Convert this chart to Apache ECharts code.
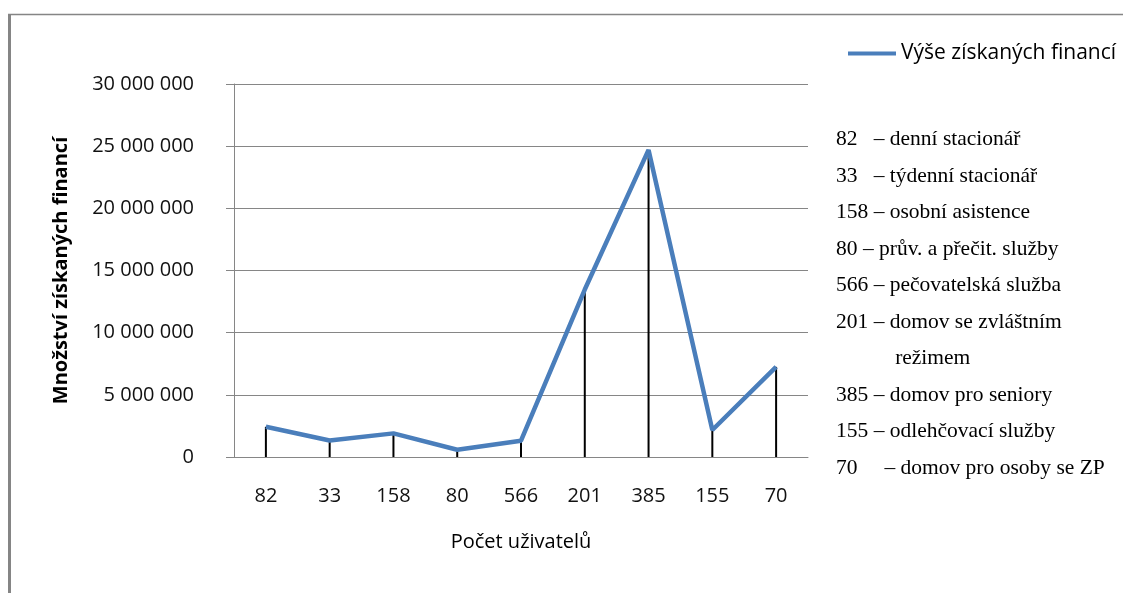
<!DOCTYPE html>
<html>
<head>
<meta charset="utf-8">
<script src="https://cdn.jsdelivr.net/npm/echarts@6/dist/echarts.min.js"></script>
<style>html,body{margin:0;padding:0;background:#fff}#c{width:1123px;height:593px}</style>
</head>
<body>
<div id="c"></div>
<script>
const categories = ['82', '33', '158', '80', '566', '201', '385', '155', '70'];
const financeValues = [2430000, 1330000, 1900000, 580000, 1310000, 13470000, 24700000, 2170000, 7250000];
const seriesName = 'Výše získaných financí';
const yTickLabels = ['0', '5 000 000', '10 000 000', '15 000 000', '20 000 000', '25 000 000', '30 000 000'];
const yAxisTitle = 'Množství získaných financí';
const xAxisTitle = 'Počet uživatelů';
const noteLines = [
  '82\u00a0\u00a0 – denní stacionář',
  '33\u00a0\u00a0 – týdenní stacionář',
  '158 – osobní asistence',
  '80 – prův. a přečit. služby',
  '566 – pečovatelská služba',
  '201 – domov se zvláštním',
  '\u00a0\u00a0\u00a0\u00a0\u00a0\u00a0\u00a0\u00a0\u00a0\u00a0\u00a0režimem',
  '385 – domov pro seniory',
  '155 – odlehčovací služby',
  '70\u00a0\u00a0\u00a0\u00a0 – domov pro osoby se ZP'
];

const FONT = 'Open Sans';
const chart = echarts.init(document.getElementById('c'), null, {renderer: 'canvas'});

const graphics = [
  {type: 'line', shape: {x1: 9.5, y1: 14, x2: 9.5, y2: 600}, style: {stroke: '#858585', lineWidth: 3}, silent: true},
  {type: 'line', shape: {x1: 8, y1: 14.5, x2: 1130, y2: 14.5}, style: {stroke: '#858585', lineWidth: 1.5}, silent: true}
];
noteLines.forEach((txt, i) => {
  graphics.push({
    type: 'text', left: 836, top: 140.5 + i * 36.5 - 12,
    style: {text: txt, font: '21.5px "Liberation Serif"', fill: '#000'}
  });
});

chart.setOption({
  animation: false,
  backgroundColor: '#fff',
  grid: {left: 234, right: 315, top: 84, bottom: 136, containLabel: false},
  legend: {
    data: [seriesName],
    left: 843, top: 38,
    icon: 'rect', itemWidth: 48, itemHeight: 4,
    textStyle: {fontFamily: FONT, fontSize: 21, color: '#000'},
    selectedMode: false
  },
  xAxis: {
    type: 'category',
    data: categories,
    boundaryGap: true,
    axisLine: {show: true, lineStyle: {color: '#868686', width: 1}},
    axisTick: {show: false},
    axisLabel: {fontFamily: FONT, fontSize: 20, color: '#111', margin: 29},
    name: xAxisTitle,
    nameLocation: 'middle',
    nameGap: 75,
    nameTextStyle: {fontFamily: FONT, fontSize: 20, color: '#000'}
  },
  yAxis: {
    type: 'value',
    min: 0, max: 30000000, interval: 5000000,
    axisLine: {show: true, lineStyle: {color: '#868686', width: 1}},
    axisTick: {show: true, inside: false, length: 8, lineStyle: {color: '#868686'}},
    splitLine: {show: true, lineStyle: {color: '#868686', width: 1}},
    axisLabel: {
      fontFamily: FONT, fontSize: 20, color: '#111', margin: 40,
      formatter: v => yTickLabels[Math.round(v / 5000000)]
    },
    name: yAxisTitle,
    nameLocation: 'middle',
    nameGap: 163,
    nameTextStyle: {fontFamily: FONT, fontSize: 20, fontWeight: 'bold', color: '#000'}
  },
  series: [
    {
      name: 'drop',
      type: 'bar',
      data: financeValues,
      barWidth: 2,
      itemStyle: {color: '#000'},
      z: 1,
      silent: true
    },
    {
      name: seriesName,
      type: 'line',
      data: financeValues,
      symbol: 'none',
      lineStyle: {color: '#4a7ebb', width: 4.5},
      itemStyle: {color: '#4a7ebb'},
      z: 3
    }
  ],
  graphic: graphics
});
</script>
</body>
</html>
